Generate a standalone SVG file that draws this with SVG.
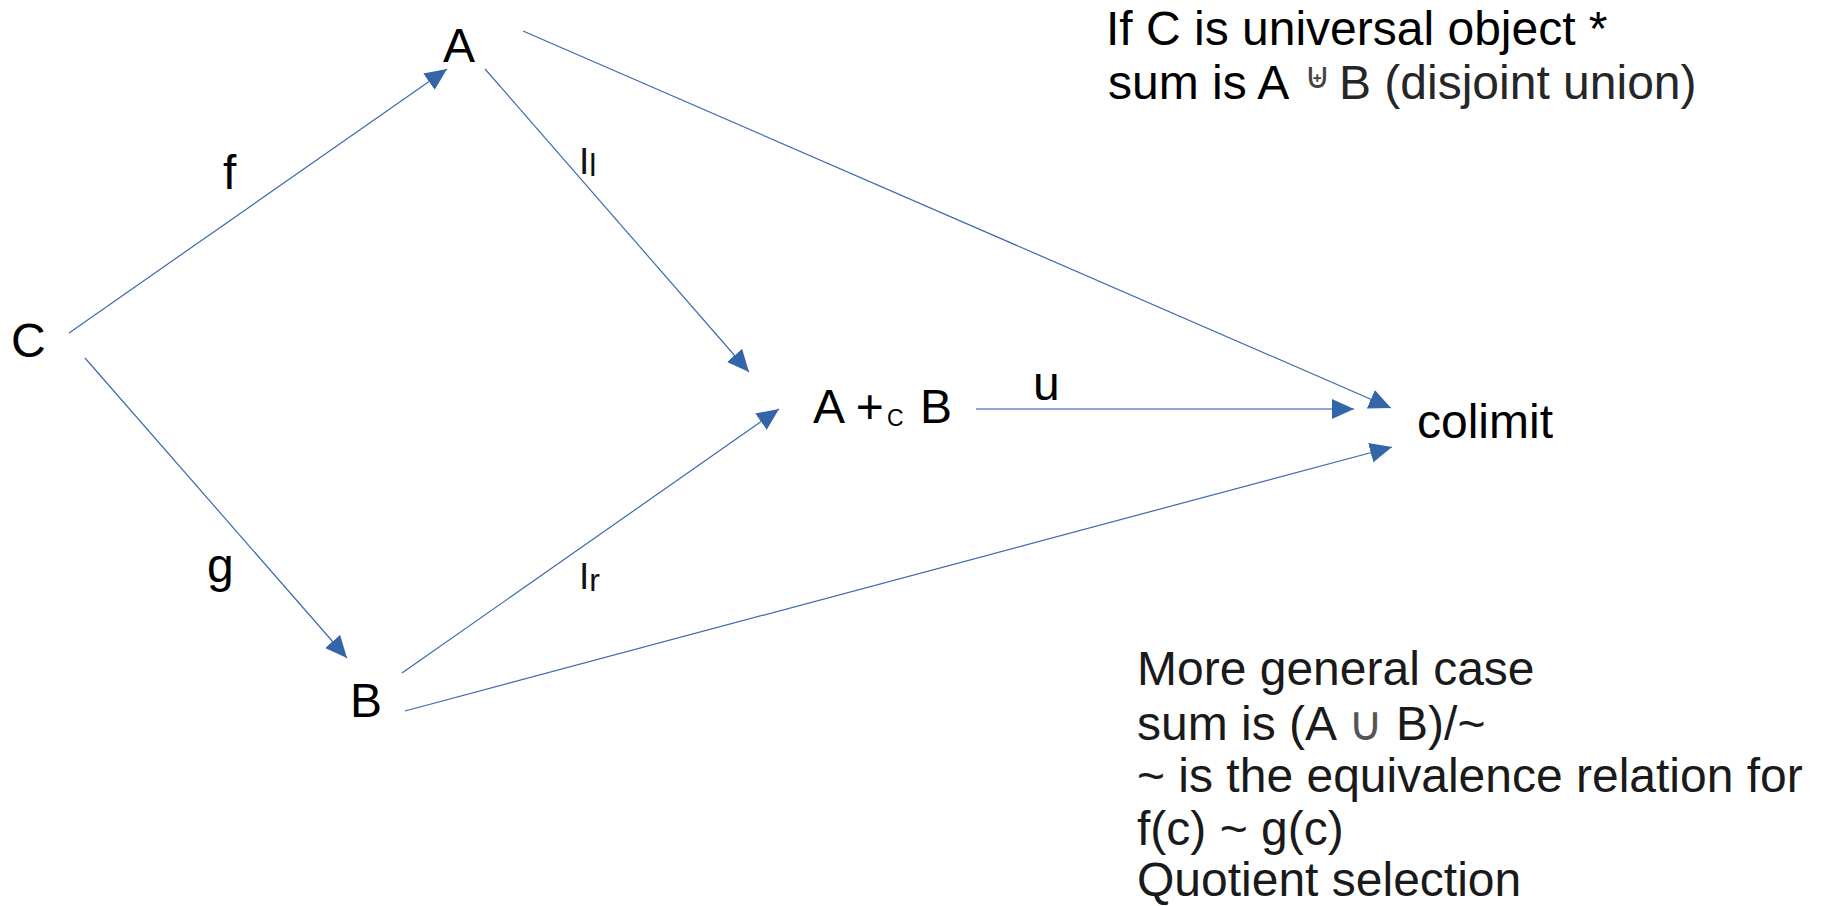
<svg xmlns="http://www.w3.org/2000/svg" width="1821" height="906" viewBox="0 0 1821 906">
<style>
.t{font-family:"Liberation Sans",Arial,sans-serif;font-size:48px;fill:#000}
.n{font-family:"Liberation Sans",Arial,sans-serif;fill:#111}
.c{stroke:#3b6aae;stroke-width:1.2;fill:none;marker-end:url(#ah)}
.u{stroke:#8ba7d5;stroke-width:2.2;fill:none;marker-end:url(#ah)}
</style>
<defs>
<marker id="ah" markerUnits="userSpaceOnUse" viewBox="0 0 22 20" markerWidth="22" markerHeight="20" refX="22" refY="10" orient="auto">
<path d="M0,0 L22,10 L0,20 z" fill="#3465a8"/>
</marker>
</defs>
<rect width="1821" height="906" fill="#fff"/>
<g id="connectors">
<line class="c" x1="69" y1="333" x2="447" y2="69"/>
<line class="c" x1="85" y1="358" x2="347" y2="658"/>
<line class="c" x1="485" y1="69" x2="749" y2="372"/>
<line class="c" x1="402" y1="673" x2="779" y2="409"/>
<line class="c" x1="523" y1="31" x2="1391" y2="408"/>
<line class="u" x1="976" y1="409" x2="1354" y2="409"/>
<line class="c" x1="405" y1="711" x2="1392" y2="447"/>
</g>
<g id="labels">
<text class="t" x="223" y="189">f</text>
<text class="t" x="207" y="582">g</text>
<text class="t" x="1033" y="400">u</text>
<text class="n" x="579" y="174" style="font-size:37px">I<tspan style="font-size:32px" dy="2">l</tspan></text>
<text class="n" x="579" y="589" style="font-size:37px">I<tspan style="font-size:32px" dy="2">r</tspan></text>
</g>
<g id="node-C"><text class="t" x="11" y="357">C</text></g>
<g id="node-A"><text class="t" x="443" y="62">A</text></g>
<g id="node-B"><text class="t" x="350" y="717">B</text></g>
<g id="node-sum">
<text class="t" x="813" y="423">A +</text>
<text class="t" x="887" y="426" style="font-size:23px">C</text>
<text class="t" x="920" y="423">B</text>
</g>
<g id="node-colimit"><text class="t" x="1417" y="438">colimit</text></g>
<g id="note-top">
<text class="t" x="1106" y="45">If C is universal object *</text>
<text class="t" x="1108" y="99">sum is A</text>
<text x="1304" y="88" style="font-family:'DejaVu Sans',sans-serif;font-size:36px;fill:#444">⊎</text>
<text class="t" x="1339" y="99" style="fill:#262626">B (disjoint union)</text>
</g>
<g id="note-bottom" class="t" style="fill:#1a1a1a">
<text x="1137" y="685">More general case</text>
<text x="1137" y="740">sum is (A <tspan style="fill:#555">∪</tspan> B)/~</text>
<text x="1137" y="792">~ is the equivalence relation for</text>
<text x="1137" y="845">f(c) ~ g(c)</text>
<text x="1137" y="896">Quotient selection</text>
</g>
</svg>
